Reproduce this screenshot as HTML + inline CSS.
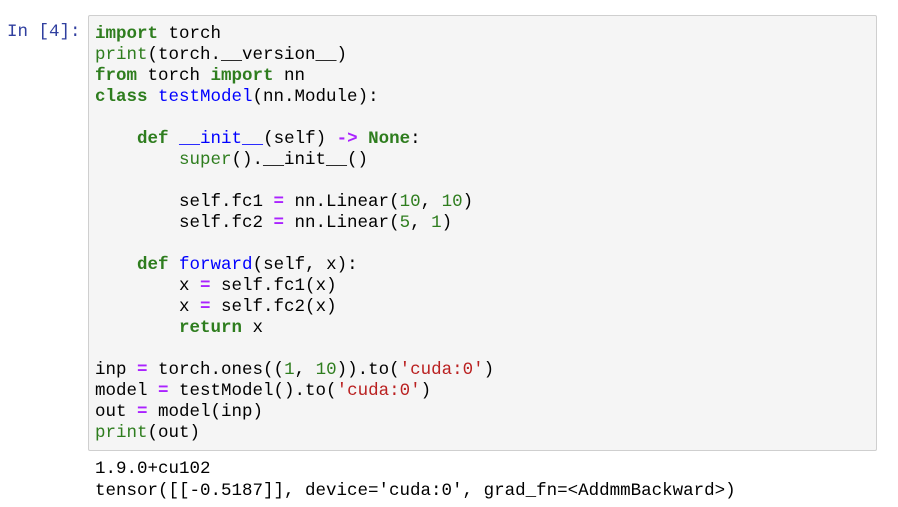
<!DOCTYPE html>
<html><head><meta charset="utf-8"><style>
body{margin:0;width:898px;height:507px;background:#fff;position:relative;overflow:hidden;font-family:"Liberation Mono",monospace;}
.p{position:absolute;left:7px;top:22px;color:#303f9f;font-size:17.5px;line-height:21px;white-space:pre;}
.box{position:absolute;left:88px;top:15px;width:787px;height:434px;background:#f5f5f5;border:1px solid #cfcfcf;border-radius:2px;}
pre{margin:0;position:absolute;left:95px;top:24px;font-family:"Liberation Mono",monospace;font-size:17.5px;line-height:21px;color:#000;}
.k{color:#2e7d1e;font-weight:bold}.b{color:#2e7d1e}.f{color:#0000ff}.o{color:#aa22ff;font-weight:bold}.n{color:#2e7d1e}.s{color:#ba2121}
.out{position:absolute;left:95px;top:458px;font-size:17.5px;line-height:22px;white-space:pre;color:#000;}
</style></head><body>
<div class="p">In [4]:</div>
<div class="box"></div>
<pre><span class="k">import</span> torch
<span class="b">print</span>(torch.__version__)
<span class="k">from</span> torch <span class="k">import</span> nn
<span class="k">class</span> <span class="f">testModel</span>(nn.Module):

    <span class="k">def</span> <span class="f">__init__</span>(self) <span class="o">-&gt;</span> <span class="k">None</span>:
        <span class="b">super</span>().__init__()

        self.fc1 <span class="o">=</span> nn.Linear(<span class="n">10</span>, <span class="n">10</span>)
        self.fc2 <span class="o">=</span> nn.Linear(<span class="n">5</span>, <span class="n">1</span>)

    <span class="k">def</span> <span class="f">forward</span>(self, x):
        x <span class="o">=</span> self.fc1(x)
        x <span class="o">=</span> self.fc2(x)
        <span class="k">return</span> x

inp <span class="o">=</span> torch.ones((<span class="n">1</span>, <span class="n">10</span>)).to(<span class="s">'cuda:0'</span>)
model <span class="o">=</span> testModel().to(<span class="s">'cuda:0'</span>)
out <span class="o">=</span> model(inp)
<span class="b">print</span>(out)</pre>
<div class="out">1.9.0+cu102
tensor([[-0.5187]], device='cuda:0', grad_fn=&lt;AddmmBackward&gt;)</div>
</body></html>
